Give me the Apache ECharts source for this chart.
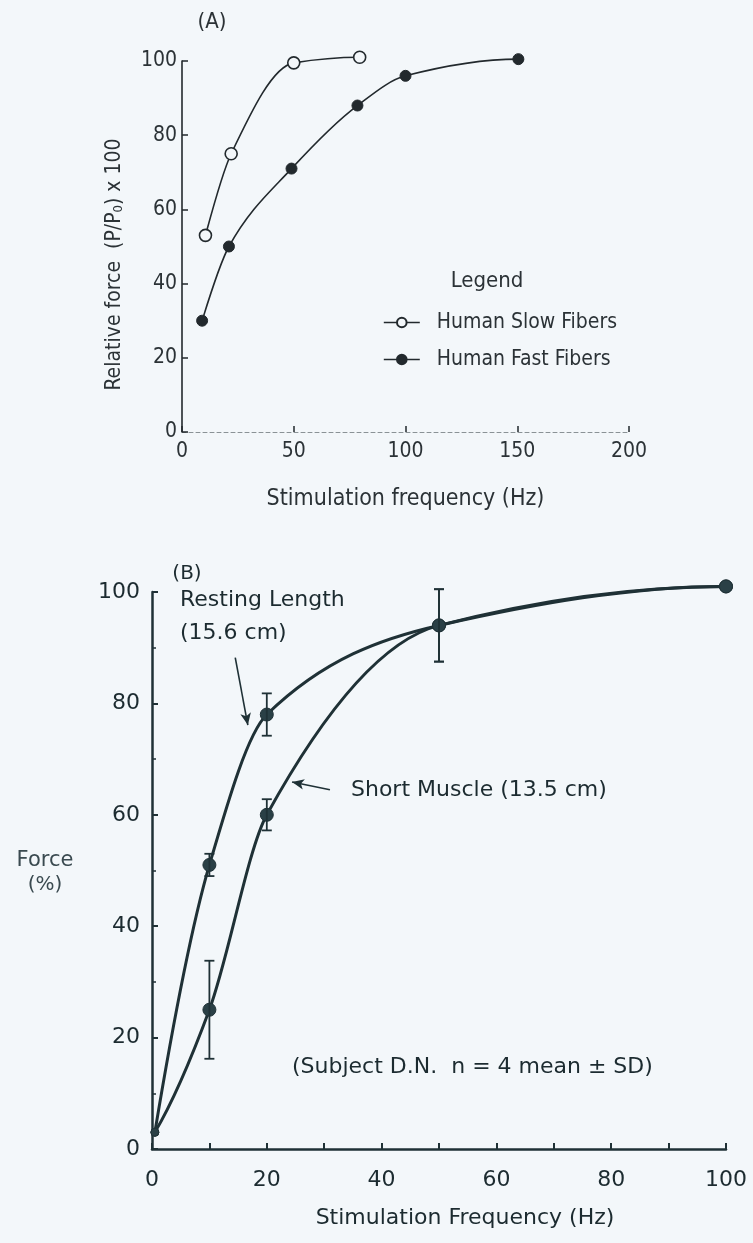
<!DOCTYPE html>
<html>
<head>
<meta charset="utf-8">
<script src="https://cdn.jsdelivr.net/npm/echarts@6/dist/echarts.min.js"></script>
<style>
  html, body { margin: 0; padding: 0; background: #f3f7fa; }
  #chart { width: 753px; height: 1243px; }
</style>
</head>
<body>
<div id="chart"></div>
<script>
// (A) single human fibres: relative force vs stimulation frequency
const slowHz = [10.5, 22, 50, 79.5];
const slowForce = [53, 75, 99.5, 101];
const fastHz = [9, 21, 49, 78.5, 100, 150.5];
const fastForce = [30, 50, 71, 88, 96, 100.5];

// (B) whole muscle at two lengths: force (%) vs stimulation frequency, mean ± SD
const bHz = [0.5, 10, 20, 50, 100];
const restingForce = [3, 51, 78, 94, 101];
const restingSD = [0, 2, 3.8, 6.5, 0];
const shortForce = [3, 25, 60, 94, 101];
const shortSD = [0, 8.8, 2.8, 6.5, 0];

const BG = '#f3f7fa';
const INK_A = '#22292d';
const TXT_A = '#2b3236';
const INK_B = '#1f3136';
const TXT_B = '#1c2b30';
const NARROW = "'DejaVu Sans Condensed', 'Liberation Sans Narrow', sans-serif";
const WIDE = "'DejaVu Sans', 'Liberation Sans', sans-serif";

const pairs = (xs, ys) => xs.map((x, i) => [x, ys[i]]);
const errorData = (xs, ys, sd) =>
  xs.map((x, i) => [x, ys[i] - sd[i], ys[i] + sd[i], sd[i]]).filter(d => d[3] > 0);

// Shape-preserving piecewise cubic (PCHIP) tangents, so each fitted curve stays smooth
function pchipSlopes(xs, ys) {
  const n = xs.length, h = [], s = [], d = new Array(n);
  for (let i = 0; i < n - 1; i++) { h[i] = xs[i + 1] - xs[i]; s[i] = (ys[i + 1] - ys[i]) / h[i]; }
  for (let i = 1; i < n - 1; i++) {
    if (s[i - 1] * s[i] <= 0) { d[i] = 0; continue; }
    const w1 = 2 * h[i] + h[i - 1], w2 = h[i] + 2 * h[i - 1];
    d[i] = (w1 + w2) / (w1 / s[i - 1] + w2 / s[i]);
  }
  const end = (h0, h1, s0, s1) => {
    let v = ((2 * h0 + h1) * s0 - h0 * s1) / (h0 + h1);
    if (Math.sign(v) !== Math.sign(s0)) v = 0;
    else if (Math.sign(s0) !== Math.sign(s1) && Math.abs(v) > Math.abs(3 * s0)) v = 3 * s0;
    return v;
  };
  d[0] = end(h[0], h[1], s[0], s[1]);
  d[n - 1] = end(h[n - 2], h[n - 3], s[n - 2], s[n - 3]);
  return d;
}
// one item per segment: [x0, y0, x1, y1, slope0, slope1]
function curveSegments(xs, ys) {
  const m = pchipSlopes(xs, ys);
  const out = [];
  for (let i = 0; i < xs.length - 1; i++) out.push([xs[i], ys[i], xs[i + 1], ys[i + 1], m[i], m[i + 1]]);
  return out;
}
function curveRenderer(color, width) {
  return function (params, api) {
    const x0 = api.value(0), y0 = api.value(1), x1 = api.value(2), y1 = api.value(3);
    const m0 = api.value(4), m1 = api.value(5), h = (x1 - x0) / 3;
    const p0 = api.coord([x0, y0]), p1 = api.coord([x1, y1]);
    const c0 = api.coord([x0 + h, y0 + m0 * h]), c1 = api.coord([x1 - h, y1 - m1 * h]);
    return {
      type: 'bezierCurve',
      shape: { x1: p0[0], y1: p0[1], x2: p1[0], y2: p1[1], cpx1: c0[0], cpy1: c0[1], cpx2: c1[0], cpy2: c1[1] },
      style: { stroke: color, lineWidth: width, fill: null, lineCap: 'round' }
    };
  };
}
function curveSeries(xs, ys, axis, color, width) {
  return {
    type: 'custom', xAxisIndex: axis, yAxisIndex: axis, z: 1, silent: true,
    renderItem: curveRenderer(color, width), data: curveSegments(xs, ys),
    encode: { x: [0, 2], y: [1, 3] }, clip: false
  };
}

function renderErr(params, api) {
  const x = api.value(0);
  const lo = api.coord([x, api.value(1)]);
  const hi = api.coord([x, api.value(2)]);
  const cap = 5;
  const st = { stroke: INK_B, lineWidth: 1.8 };
  return {
    type: 'group',
    children: [
      { type: 'line', shape: { x1: lo[0], y1: lo[1], x2: hi[0], y2: hi[1] }, style: st },
      { type: 'line', shape: { x1: lo[0] - cap, y1: lo[1], x2: lo[0] + cap, y2: lo[1] }, style: st },
      { type: 'line', shape: { x1: hi[0] - cap, y1: hi[1], x2: hi[0] + cap, y2: hi[1] }, style: st }
    ]
  };
}

const chart = echarts.init(document.getElementById('chart'), null, { renderer: 'canvas' });

const txt = (text, x, y, family, size, color, align) => ({
  type: 'text', x: x, y: y,
  style: { text: text, fontFamily: family, fontSize: size, fill: color, textAlign: align || 'left', textVerticalAlign: 'middle' }
});

chart.setOption({
  animation: false,
  backgroundColor: BG,
  grid: [
    { left: 182, top: 61, width: 447, height: 371, outerBoundsMode: 'none' },
    { left: 152, top: 592, width: 574, height: 557, outerBoundsMode: 'none' }
  ],
  xAxis: [
    {
      gridIndex: 0, type: 'value', min: 0, max: 200, interval: 50,
      name: 'Stimulation frequency (Hz)', nameLocation: 'middle', nameGap: 56,
      nameTextStyle: { fontFamily: NARROW, fontSize: 23, color: TXT_A },
      axisLine: { lineStyle: { color: '#8a9296', width: 1, type: [4, 3] } },
      axisTick: { inside: true, length: 6, lineStyle: { color: INK_A, width: 1.5 } },
      axisLabel: { fontFamily: NARROW, fontSize: 21, color: TXT_A, margin: 9 },
      splitLine: { show: false }
    },
    {
      gridIndex: 1, type: 'value', min: 0, max: 100, interval: 20,
      name: 'Stimulation Frequency (Hz)', nameLocation: 'middle', nameGap: 58,
      nameTextStyle: { fontFamily: WIDE, fontSize: 22, color: TXT_B, padding: [0, 0, 0, 52] },
      axisLine: { lineStyle: { color: INK_B, width: 2.5 } },
      axisTick: { inside: true, length: 6, lineStyle: { color: INK_B, width: 2 } },
      minorTick: { show: true, splitNumber: 2, length: 6, lineStyle: { color: INK_B, width: 2 } },
      axisLabel: { fontFamily: WIDE, fontSize: 22, color: TXT_B, margin: 20 },
      splitLine: { show: false }
    }
  ],
  yAxis: [
    {
      gridIndex: 0, type: 'value', min: 0, max: 100, interval: 20,
      name: 'Relative force  (P/P{sub|0}) x 100', nameLocation: 'middle', nameGap: 57,
      nameTextStyle: {
        fontFamily: NARROW, fontSize: 21, color: TXT_A, padding: [0, 36, 0, 0],
        rich: { sub: { fontFamily: NARROW, fontSize: 13, color: TXT_A, padding: [8, 0, 0, 0] } }
      },
      axisLine: { lineStyle: { color: INK_A, width: 1.6 } },
      axisTick: { inside: true, length: 6, lineStyle: { color: INK_A, width: 1.5 } },
      axisLabel: { fontFamily: NARROW, fontSize: 21, color: TXT_A, margin: 5 },
      splitLine: { show: false }
    },
    {
      gridIndex: 1, type: 'value', min: 0, max: 100, interval: 20,
      axisLine: { lineStyle: { color: INK_B, width: 2.5 } },
      axisTick: { inside: true, length: 6, lineStyle: { color: INK_B, width: 2 } },
      minorTick: { show: true, splitNumber: 2, length: 4, lineStyle: { color: INK_B, width: 1.5 } },
      axisLabel: { fontFamily: WIDE, fontSize: 22, color: TXT_B, margin: 12 },
      splitLine: { show: false }
    }
  ],
  legend: {
    data: ['Human Slow Fibers', 'Human Fast Fibers'],
    orient: 'vertical', left: 378, top: 307,
    itemWidth: 36, itemHeight: 12, itemGap: 16,
    lineStyle: { color: INK_A, width: 1.6, opacity: 1 },
    textStyle: { fontFamily: NARROW, fontSize: 21, color: TXT_A, padding: [0, 0, 0, 12] }
  },
  series: [
    curveSeries(slowHz, slowForce, 0, INK_A, 1.6),
    curveSeries(fastHz, fastForce, 0, INK_A, 1.6),
    curveSeries(bHz, restingForce, 1, INK_B, 3),
    curveSeries(bHz, shortForce, 1, INK_B, 3),
    {
      name: 'Human Slow Fibers', type: 'line', xAxisIndex: 0, yAxisIndex: 0,
      data: pairs(slowHz, slowForce), clip: false, z: 3,
      symbol: 'circle', symbolSize: 12,
      lineStyle: { color: INK_A, width: 1.6, opacity: 0 },
      itemStyle: { color: BG, borderColor: INK_A, borderWidth: 1.6 }
    },
    {
      name: 'Human Fast Fibers', type: 'line', xAxisIndex: 0, yAxisIndex: 0,
      data: pairs(fastHz, fastForce), clip: false, z: 3,
      symbol: 'circle', symbolSize: 11,
      lineStyle: { color: INK_A, width: 1.6, opacity: 0 },
      itemStyle: { color: INK_A, borderColor: INK_A, borderWidth: 1 }
    },
    {
      name: 'Resting Length', type: 'line', xAxisIndex: 1, yAxisIndex: 1,
      data: pairs(bHz, restingForce), clip: false, z: 3,
      symbol: 'circle', symbolSize: (v, p) => (p.dataIndex === 0 ? 8 : 13),
      lineStyle: { opacity: 0 },
      itemStyle: { color: '#2a4046', borderColor: INK_B, borderWidth: 1 },
      markLine: {
        silent: true, symbol: ['none', 'arrow'], symbolSize: [8, 12],
        lineStyle: { color: INK_B, width: 1.6, type: 'solid', opacity: 1 },
        label: { show: false },
        data: [
          [{ coord: [14.5, 88.2] }, { coord: [16.7, 76.1] }],
          [{ coord: [31, 64.5] }, { coord: [24.4, 65.9] }]
        ]
      }
    },
    {
      name: 'Short Muscle', type: 'line', xAxisIndex: 1, yAxisIndex: 1,
      data: pairs(bHz, shortForce), clip: false, z: 3,
      symbol: 'circle', symbolSize: (v, p) => (p.dataIndex === 0 ? 8 : 13),
      lineStyle: { opacity: 0 },
      itemStyle: { color: '#2a4046', borderColor: INK_B, borderWidth: 1 }
    },
    {
      name: 'Resting SD', type: 'custom', xAxisIndex: 1, yAxisIndex: 1,
      renderItem: renderErr, data: errorData(bHz, restingForce, restingSD),
      encode: { x: 0, y: [1, 2] }, z: 4
    },
    {
      name: 'Short SD', type: 'custom', xAxisIndex: 1, yAxisIndex: 1,
      renderItem: renderErr, data: errorData(bHz, shortForce, shortSD),
      encode: { x: 0, y: [1, 2] }, z: 4
    }
  ],
  graphic: [
    txt('(A)', 212, 22, NARROW, 22, TXT_A, 'center'),
    txt('Legend', 487, 281, NARROW, 22, TXT_A, 'center'),
    txt('(B)', 187, 574, WIDE, 20, TXT_B, 'center'),
    txt('Force', 45, 861, WIDE, 21, '#3a4a50', 'center'),
    txt('(%)', 45, 885, WIDE, 20, '#3a4a50', 'center'),
    txt('Resting Length', 180, 600, WIDE, 22, TXT_B),
    txt('(15.6 cm)', 180, 633, WIDE, 22, TXT_B),
    txt('Short Muscle (13.5 cm)', 351, 790, WIDE, 22, TXT_B),
    txt('(Subject D.N.  n = 4 mean \u00b1 SD)', 292, 1067, WIDE, 22, TXT_B)
  ]
});
</script>
</body>
</html>
